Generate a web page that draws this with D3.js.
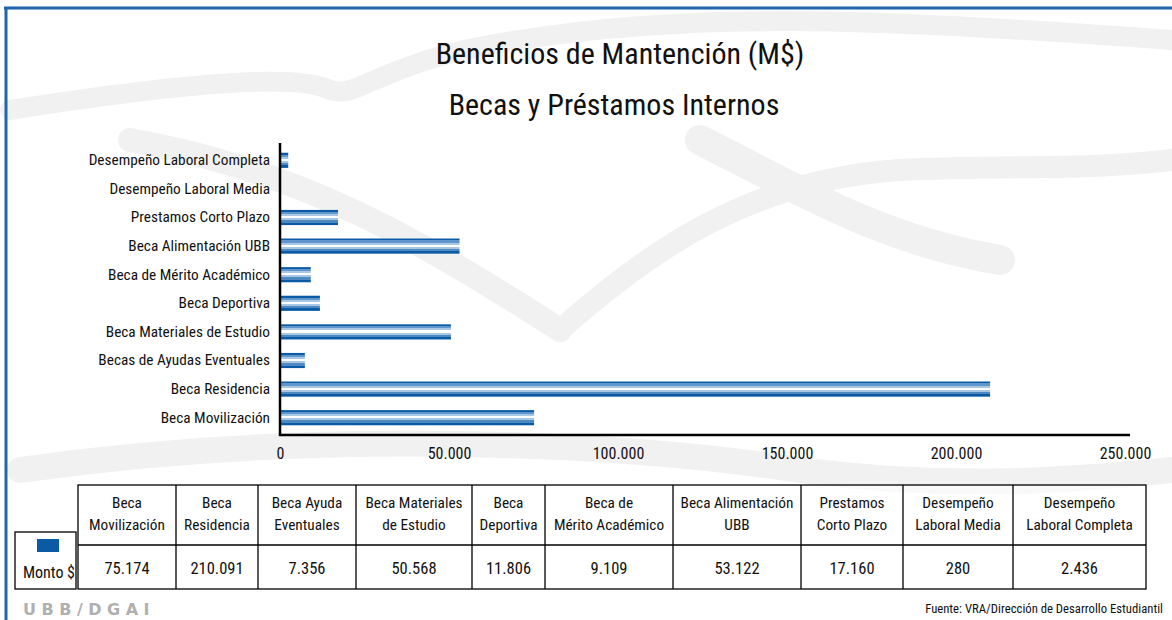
<!DOCTYPE html>
<html>
<head>
<meta charset="utf-8">
<script src="https://cdn.jsdelivr.net/npm/d3@7"></script>
<style>
  body { margin: 0; background: #fff; }
  svg text { font-family: "Liberation Sans Narrow", "Roboto Condensed", "DejaVu Sans Condensed", sans-serif; fill: #111; }
</style>
</head>
<body>
<div id="chart"></div>
<script>
// DATA
var categories = ["Beca Movilización", "Beca Residencia", "Becas de Ayudas Eventuales", "Beca Materiales de Estudio",
  "Beca Deportiva", "Beca de Mérito Académico", "Beca Alimentación UBB", "Prestamos Corto Plazo",
  "Desempeño  Laboral Media", "Desempeño Laboral Completa"];
var tableHeaders = [["Beca", "Movilización"], ["Beca", "Residencia"], ["Beca Ayuda", "Eventuales"], ["Beca Materiales", "de Estudio"],
  ["Beca", "Deportiva"], ["Beca de", "Mérito Académico"], ["Beca Alimentación", "UBB"], ["Prestamos", "Corto Plazo"],
  ["Desempeño", "Laboral Media"], ["Desempeño", "Laboral Completa"]];
var montos = [75174, 210091, 7356, 50568, 11806, 9109, 53122, 17160, 280, 2436];
var xTicks = [0, 50000, 100000, 150000, 200000, 250000];
var seriesName = "Monto $";

// SET UP
var svgWidth = 1172, svgHeight = 620;
var svg = d3.select("#chart").append("svg")
  .attr("width", svgWidth)
  .attr("height", svgHeight);

var locale = d3.formatLocale({ decimal: ",", thousands: ".", grouping: [3], currency: ["$", ""] });
var fmt = locale.format(",d");

// gradient for striped bars
var defs = svg.append("defs");
var grad = defs.append("linearGradient").attr("id", "barGrad")
  .attr("x1", 0).attr("y1", 0).attr("x2", 0).attr("y2", 1);
var stops = [[0, "#0b5aa6"], [0.13, "#0b5aa6"], [0.13, "#5f97cc"], [0.27, "#5f97cc"], [0.27, "#a8c7e5"], [0.4, "#a8c7e5"],
  [0.4, "#ffffff"], [0.55, "#ffffff"], [0.55, "#a8c7e5"], [0.68, "#a8c7e5"], [0.68, "#4f89c2"], [0.83, "#4f89c2"],
  [0.83, "#0b5aa6"], [1, "#0b5aa6"]];
stops.forEach(function(s) {
  grad.append("stop").attr("offset", s[0]).attr("stop-color", s[1]);
});

// faint background watermark swooshes
var wm = svg.append("g").attr("fill", "none").attr("stroke", "#f1f1f1").attr("stroke-linecap", "round");
wm.append("path").attr("d", "M10,110 C200,80 300,75 330,90 C360,100 380,60 520,40 C700,10 900,20 1172,40").attr("stroke-width", 20);
wm.append("path").attr("d", "M130,140 C300,170 420,240 560,330").attr("stroke-width", 24);
wm.append("path").attr("d", "M560,330 C650,250 750,180 900,170 C1000,165 1100,170 1172,160").attr("stroke-width", 22);
wm.append("path").attr("d", "M20,470 C300,430 600,440 800,470 C950,490 1080,480 1172,470").attr("stroke-width", 26);
wm.append("path").attr("d", "M700,140 C800,190 880,240 1000,260").attr("stroke-width", 30);

// frame
svg.append("line").attr("x1", 4).attr("x2", svgWidth).attr("y1", 8).attr("y2", 8)
  .attr("stroke", "#1f66ad").attr("stroke-width", 3);
svg.append("line").attr("x1", 6).attr("x2", 6).attr("y1", 7).attr("y2", svgHeight)
  .attr("stroke", "#1f66ad").attr("stroke-width", 3);

// TITLE
svg.append("text").attr("x", 620).attr("y", 64).attr("text-anchor", "middle")
  .style("font-size", "30px").text("Beneficios de Mantención (M$)");
svg.append("text").attr("x", 614).attr("y", 115).attr("text-anchor", "middle")
  .style("font-size", "30px").text("Becas y Préstamos Internos");

// SCALES
var x = d3.scaleLinear().domain([0, 250000]).range([280, 1125]);
var y = d3.scaleBand().domain(categories.slice().reverse()).range([146, 432])
  .paddingInner(0.47).paddingOuter(0.235);

// bars
svg.selectAll("rect.bar")
  .data(montos)
  .enter()
  .append("rect")
  .attr("class", "bar")
  .attr("x", x(0))
  .attr("y", function(d, i) { return y(categories[i]); })
  .attr("width", function(d) { return x(d) - x(0); })
  .attr("height", y.bandwidth())
  .attr("fill", "url(#barGrad)");

// AXES
var leftAxis = d3.axisLeft(y).tickSize(0).tickPadding(10);
var gy = svg.append("g").attr("transform", "translate(" + x(0) + ",0)").call(leftAxis);
gy.select(".domain").remove();
gy.selectAll("text").style("font-size", "15.3px").attr("fill", "#111");

var bottomAxis = d3.axisBottom(x).tickValues(xTicks).tickSize(0).tickPadding(13).tickFormat(fmt);
var gx = svg.append("g").attr("transform", "translate(0,435)").call(bottomAxis);
gx.select(".domain").remove();
gx.selectAll("text").style("font-size", "16px").attr("fill", "#111");

svg.append("line").attr("x1", x(0)).attr("x2", x(0)).attr("y1", 143).attr("y2", 436)
  .attr("stroke", "#000").attr("stroke-width", 2.5);
svg.append("line").attr("x1", x(0) - 1).attr("x2", 1130).attr("y1", 435).attr("y2", 435)
  .attr("stroke", "#000").attr("stroke-width", 2.5);

// DATA TABLE
var colEdges = [78, 176, 258, 356, 472, 545, 673, 801, 903, 1013, 1146];
var tTop = 485, tMid = 545, tBot = 589;
var table = svg.append("g");
table.append("rect").attr("x", colEdges[0]).attr("y", tTop)
  .attr("width", colEdges[colEdges.length - 1] - colEdges[0]).attr("height", tBot - tTop)
  .attr("fill", "#fff").attr("fill-opacity", 0.6).attr("stroke", "#000").attr("stroke-width", 1.3);
table.append("line").attr("x1", colEdges[0]).attr("x2", colEdges[colEdges.length - 1])
  .attr("y1", tMid).attr("y2", tMid).attr("stroke", "#000").attr("stroke-width", 1.3);
table.selectAll("line.col")
  .data(colEdges.slice(1, -1))
  .enter().append("line").attr("class", "col")
  .attr("x1", function(d) { return d; }).attr("x2", function(d) { return d; })
  .attr("y1", tTop).attr("y2", tBot).attr("stroke", "#000").attr("stroke-width", 1.3);

tableHeaders.forEach(function(h, i) {
  var cx = (colEdges[i] + colEdges[i + 1]) / 2;
  table.append("text").attr("x", cx).attr("y", 508).attr("text-anchor", "middle")
    .style("font-size", "15.3px").text(h[0]);
  table.append("text").attr("x", cx).attr("y", 530).attr("text-anchor", "middle")
    .style("font-size", "15.3px").text(h[1]);
});
table.selectAll("text.val")
  .data(montos)
  .enter().append("text").attr("class", "val")
  .attr("x", function(d, i) { return (colEdges[i] + colEdges[i + 1]) / 2; })
  .attr("y", 574).attr("text-anchor", "middle")
  .style("font-size", "16.5px").text(function(d) { return fmt(d); });

// legend cell
table.append("rect").attr("x", 15).attr("y", 532).attr("width", 61).attr("height", 57)
  .attr("fill", "#fff").attr("fill-opacity", 0.6).attr("stroke", "#000").attr("stroke-width", 1.3);
table.append("rect").attr("x", 37).attr("y", 539).attr("width", 22).attr("height", 13).attr("fill", "#0b5aa6");
table.append("text").attr("x", 75).attr("y", 578).attr("text-anchor", "end")
  .style("font-size", "16px").text(seriesName);

// FOOTER
svg.append("text").attr("x", 23).attr("y", 615)
  .style("font-family", "'DejaVu Sans', sans-serif").style("font-weight", "bold")
  .style("font-size", "16px").style("letter-spacing", "5.5px")
  .style("fill", "#b0b0b0").text("UBB/DGAI");
svg.append("text").attr("x", 1163).attr("y", 613).attr("text-anchor", "end")
  .style("font-size", "12.7px").text("Fuente: VRA/Dirección de Desarrollo Estudiantil");
</script>
</body>
</html>
